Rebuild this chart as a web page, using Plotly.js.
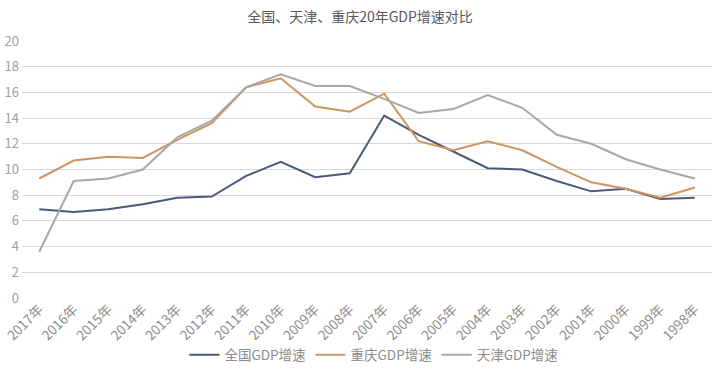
<!DOCTYPE html>
<html>
<head>
<meta charset="utf-8">
<script src="https://cdn.plot.ly/plotly-3.0.1.min.js"></script>
<style>html,body{margin:0;padding:0;background:#fff;}#chart{width:720px;height:379px;}</style>
</head>
<body>
<div id="chart"></div>
<script>
var years = ["2017年","2016年","2015年","2014年","2013年","2012年","2011年","2010年","2009年","2008年","2007年","2006年","2005年","2004年","2003年","2002年","2001年","2000年","1999年","1998年"];
var national = [6.9,6.7,6.9,7.3,7.8,7.9,9.5,10.6,9.4,9.7,14.2,12.7,11.4,10.1,10.0,9.1,8.3,8.5,7.7,7.8];
var chongqing = [9.3,10.7,11.0,10.9,12.3,13.6,16.4,17.1,14.9,14.5,15.9,12.2,11.5,12.2,11.5,10.2,9.0,8.5,7.8,8.6];
var tianjin = [3.6,9.1,9.3,10.0,12.5,13.8,16.4,17.4,16.5,16.5,15.5,14.4,14.7,15.8,14.8,12.7,12.0,10.8,10.0,9.3];
var yTicks = [0,2,4,6,8,10,12,14,16,18,20];

var font = "'Noto Sans CJK SC', 'Noto Sans', sans-serif";
var traces = [
  {x: years, y: national, name: "全国GDP增速", type: "scatter", mode: "lines", line: {color: "#4a5a78", width: 2}},
  {x: years, y: chongqing, name: "重庆GDP增速", type: "scatter", mode: "lines", line: {color: "#cf955f", width: 2}},
  {x: years, y: tianjin, name: "天津GDP增速", type: "scatter", mode: "lines", line: {color: "#a8a8a8", width: 2}}
];
var layout = {
  width: 720, height: 379,
  margin: {l: 22, r: 8, t: 41, b: 81},
  paper_bgcolor: "#fff", plot_bgcolor: "#fff",
  font: {family: font, color: "#8c8c8c", size: 12},
  title: {text: "全国、天津、重庆20年GDP增速对比", x: 0.5, xanchor: "center", y: 0.955, yanchor: "middle", font: {family: font, size: 14, color: "#595959"}},
  xaxis: {type: "category", tickangle: -45, showgrid: false, zeroline: false, showline: false, ticks: "", tickfont: {size: 13.5, color: "#8c8c8c"}, range: [-0.5, 19.5]},
  yaxis: {range: [0, 20], tickvals: yTicks, showgrid: true, gridcolor: "#d9d9d9", gridwidth: 1, zeroline: false, showline: false, ticks: "", tickfont: {size: 13, color: "#a0a0a0"}, ticklabelstandoff: 2},
  legend: {orientation: "h", x: 0.51, xanchor: "center", y: -0.222, yanchor: "middle", font: {size: 13.5, color: "#8c8c8c"}, itemwidth: 30, tracegroupgap: 0},
  showlegend: true
};
Plotly.newPlot("chart", traces, layout, {displayModeBar: false, staticPlot: true});
</script>
</body>
</html>
